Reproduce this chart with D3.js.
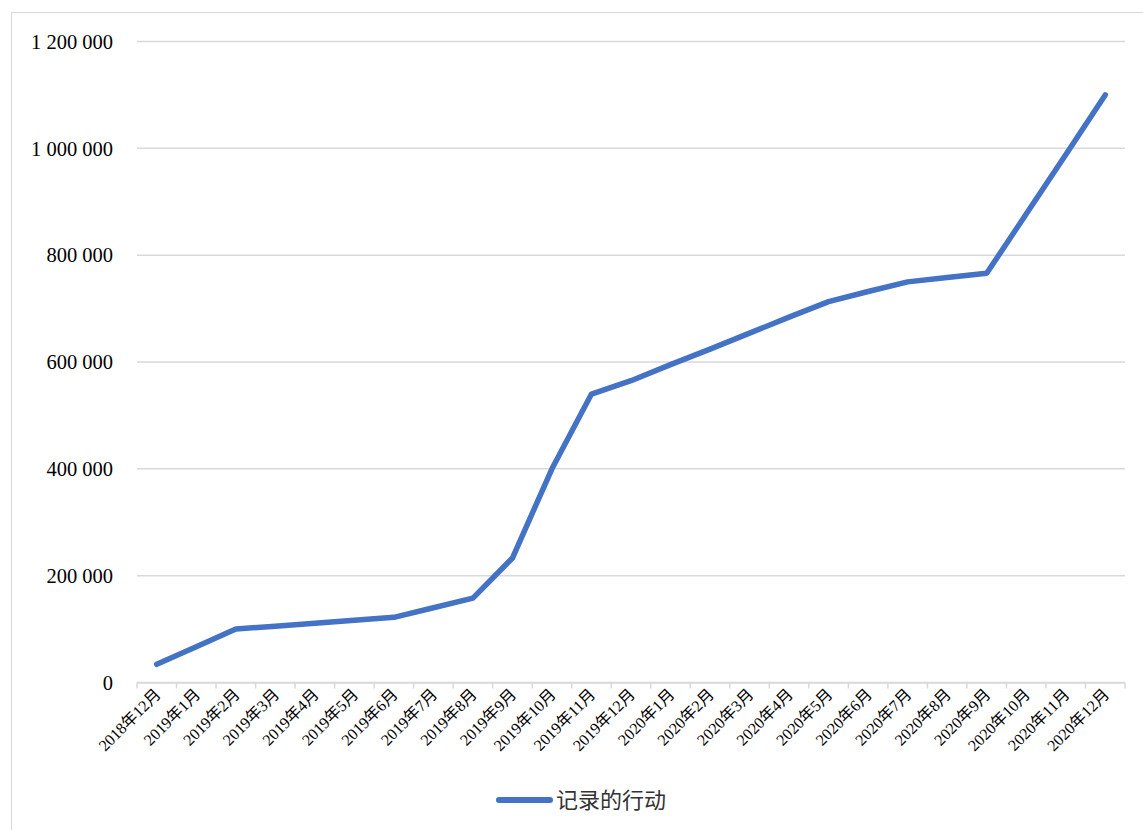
<!DOCTYPE html>
<html>
<head>
<meta charset="utf-8">
<script src="https://cdn.jsdelivr.net/npm/d3@7"></script>
<style>
  body { margin: 0; background: #fff; }
  svg { display: block; }
</style>
</head>
<body>
<svg id="chart" width="1143" height="830"></svg>
<script>
const months = [
  "2018年12月", "2019年1月", "2019年2月", "2019年3月", "2019年4月", "2019年5月",
  "2019年6月", "2019年7月", "2019年8月", "2019年9月", "2019年10月", "2019年11月",
  "2019年12月", "2020年1月", "2020年2月", "2020年3月", "2020年4月", "2020年5月",
  "2020年6月", "2020年7月", "2020年8月", "2020年9月", "2020年10月", "2020年11月",
  "2020年12月"
];
const actions = [
  34000, 67000, 100000, 105500, 111000, 116500,
  122000, 140000, 158000, 233000, 400000, 540000,
  565000, 595000, 624000, 654000, 684000, 713000,
  732000, 750000, 758000, 766000, 877000, 988000,
  1100000
];
const yTicks = [0, 200000, 400000, 600000, 800000, 1000000, 1200000];
const seriesName = "记录的行动";

const svg = d3.select("#chart");
const color = "#4472C4";
const gridColor = "#d9d9d9";
const serif = "'Liberation Serif', 'Times New Roman', 'Noto Sans CJK SC', serif";

// chart frame
svg.append("rect")
  .attr("x", 11.5).attr("y", 12.5)
  .attr("width", 1140).attr("height", 830)
  .attr("fill", "none").attr("stroke", gridColor);

const plot = { left: 137, right: 1125, top: 41.5, bottom: 682.5 };

const x = d3.scaleBand().domain(months).range([plot.left, plot.right]);
const y = d3.scaleLinear().domain([0, 1200000]).range([plot.bottom, plot.top]);

const fmt = v => d3.format(",")(v).replace(/,/g, " ");

// gridlines
svg.append("g")
  .selectAll("line")
  .data(yTicks)
  .join("line")
  .attr("x1", plot.left).attr("x2", plot.right)
  .attr("y1", d => y(d)).attr("y2", d => y(d))
  .attr("stroke", gridColor).attr("stroke-width", 1.5);

// y labels
svg.append("g")
  .selectAll("text")
  .data(yTicks)
  .join("text")
  .attr("x", 113)
  .attr("y", d => y(d))
  .attr("dy", "0.35em")
  .attr("text-anchor", "end")
  .attr("font-family", serif)
  .attr("font-size", 20.5)
  .attr("fill", "#000")
  .text(fmt);

// x axis
const xAxis = svg.append("g")
  .attr("transform", `translate(0,${plot.bottom})`)
  .call(d3.axisBottom(x).tickSize(0).tickFormat(""));
xAxis.select(".domain").attr("stroke", gridColor).attr("stroke-width", 1.5);

svg.append("g")
  .selectAll("line")
  .data(months.concat([null]))
  .join("line")
  .attr("x1", (d, i) => plot.left + i * x.step())
  .attr("x2", (d, i) => plot.left + i * x.step())
  .attr("y1", plot.bottom).attr("y2", plot.bottom + 6)
  .attr("stroke", gridColor).attr("stroke-width", 1.5);

svg.append("g")
  .selectAll("text")
  .data(months)
  .join("text")
  .attr("transform", d => `translate(${x(d) + x.bandwidth() / 2 + 1},${plot.bottom + 9}) rotate(-45)`)
  .attr("text-anchor", "end")
  .attr("dy", "0.35em")
  .attr("font-family", serif)
  .attr("font-size", 16)
  .attr("fill", "#000")
  .text(d => d);

// line
const line = d3.line()
  .x((d, i) => x(months[i]) + x.bandwidth() / 2)
  .y(d => y(d));

svg.append("path")
  .datum(actions)
  .attr("d", line)
  .attr("fill", "none")
  .attr("stroke", color)
  .attr("stroke-width", 5.5)
  .attr("stroke-linejoin", "round")
  .attr("stroke-linecap", "round");

// legend
const legend = svg.append("g").attr("transform", "translate(0,800)");
legend.append("line")
  .attr("x1", 499).attr("x2", 550)
  .attr("y1", 0).attr("y2", 0)
  .attr("stroke", color).attr("stroke-width", 6)
  .attr("stroke-linecap", "round");
legend.append("text")
  .attr("x", 556).attr("y", 0)
  .attr("dy", "0.35em")
  .attr("font-family", "'Noto Sans CJK SC', sans-serif")
  .attr("font-size", 22)
  .attr("fill", "#333")
  .text(seriesName);
</script>
</body>
</html>
